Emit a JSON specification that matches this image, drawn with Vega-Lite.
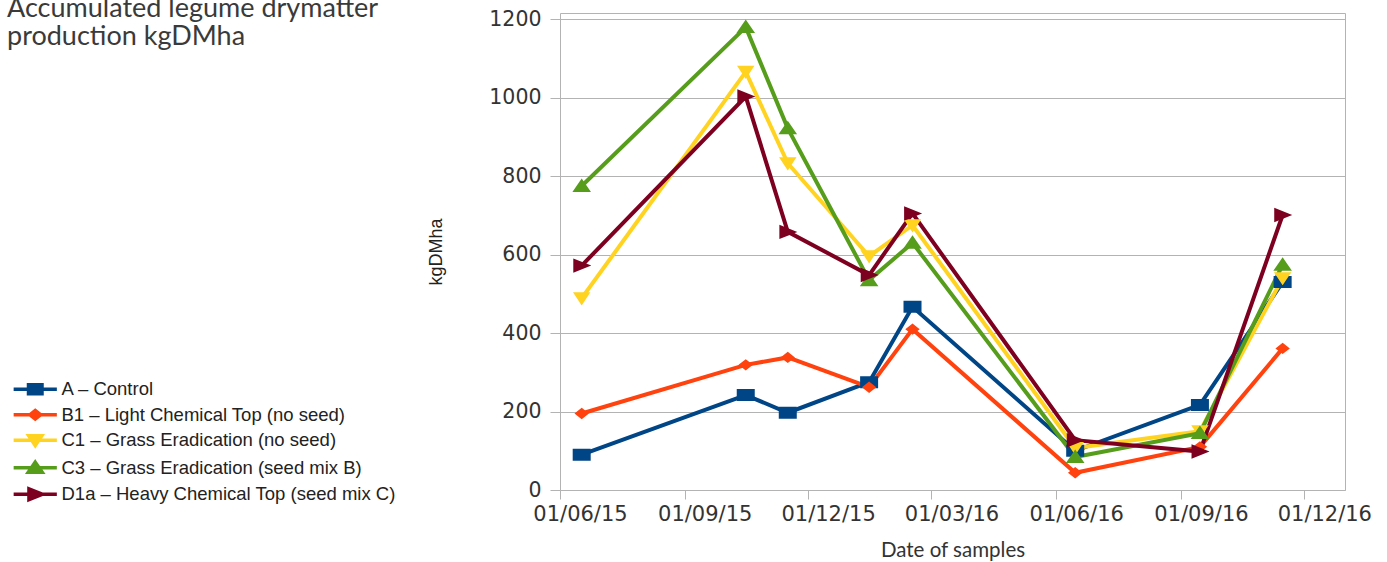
{
  "$schema": "https://vega.github.io/schema/vega-lite/v6.json",
  "width": 785,
  "height": 477,
  "autosize": {"type": "none"},
  "padding": {"left": 560, "top": 13, "right": 42, "bottom": 72},
  "background": "white",
  "title": {
    "text": ["Accumulated legume drymatter", "production kgDMha"],
    "anchor": "start",
    "frame": "group",
    "dx": -553,
    "dy": 46,
    "font": "Lato",
    "fontSize": 27,
    "fontWeight": "normal",
    "color": "#3a3a3a",
    "lineHeight": 28
  },
  "config": {
    "view": {"stroke": "#b3b3b3", "strokeWidth": 1},
    "legend": {
      "orient": "none",
      "legendX": -534,
      "legendY": 367,
      "title": null,
      "labelFont": "Liberation Sans",
      "labelFontSize": 18.5,
      "labelColor": "#222222",
      "labelLimit": 500,
      "symbolSize": 81,
      "labelOffset": 17,
      "rowPadding": 1.5,
      "symbolStrokeWidth": 3.5
    }
  },
  "data": {
    "values": [
      {"series": "A – Control", "date": "2015-06-17", "v": 90},
      {"series": "A – Control", "date": "2015-10-16", "v": 242},
      {"series": "A – Control", "date": "2015-11-16", "v": 197},
      {"series": "A – Control", "date": "2016-01-15", "v": 275},
      {"series": "A – Control", "date": "2016-02-16", "v": 467},
      {"series": "A – Control", "date": "2016-06-15", "v": 100},
      {"series": "A – Control", "date": "2016-09-15", "v": 217},
      {"series": "A – Control", "date": "2016-11-15", "v": 530},
      {"series": "B1 – Light Chemical Top (no seed)", "date": "2015-06-17", "v": 195},
      {"series": "B1 – Light Chemical Top (no seed)", "date": "2015-10-16", "v": 319},
      {"series": "B1 – Light Chemical Top (no seed)", "date": "2015-11-16", "v": 338},
      {"series": "B1 – Light Chemical Top (no seed)", "date": "2016-01-15", "v": 262},
      {"series": "B1 – Light Chemical Top (no seed)", "date": "2016-02-16", "v": 410},
      {"series": "B1 – Light Chemical Top (no seed)", "date": "2016-06-15", "v": 44},
      {"series": "B1 – Light Chemical Top (no seed)", "date": "2016-09-15", "v": 110},
      {"series": "B1 – Light Chemical Top (no seed)", "date": "2016-11-15", "v": 361},
      {"series": "C1 – Grass Eradication (no seed)", "date": "2015-06-17", "v": 489},
      {"series": "C1 – Grass Eradication (no seed)", "date": "2015-10-16", "v": 1066},
      {"series": "C1 – Grass Eradication (no seed)", "date": "2015-11-16", "v": 833},
      {"series": "C1 – Grass Eradication (no seed)", "date": "2016-01-15", "v": 596},
      {"series": "C1 – Grass Eradication (no seed)", "date": "2016-02-16", "v": 675},
      {"series": "C1 – Grass Eradication (no seed)", "date": "2016-06-15", "v": 107},
      {"series": "C1 – Grass Eradication (no seed)", "date": "2016-09-15", "v": 150},
      {"series": "C1 – Grass Eradication (no seed)", "date": "2016-11-15", "v": 540},
      {"series": "C3 – Grass Eradication (seed mix B)", "date": "2015-06-17", "v": 775},
      {"series": "C3 – Grass Eradication (seed mix B)", "date": "2015-10-16", "v": 1180},
      {"series": "C3 – Grass Eradication (seed mix B)", "date": "2015-11-16", "v": 922},
      {"series": "C3 – Grass Eradication (seed mix B)", "date": "2016-01-15", "v": 535},
      {"series": "C3 – Grass Eradication (seed mix B)", "date": "2016-02-16", "v": 630},
      {"series": "C3 – Grass Eradication (seed mix B)", "date": "2016-06-15", "v": 84},
      {"series": "C3 – Grass Eradication (seed mix B)", "date": "2016-09-15", "v": 145},
      {"series": "C3 – Grass Eradication (seed mix B)", "date": "2016-11-15", "v": 574},
      {"series": "D1a – Heavy Chemical Top (seed mix C)", "date": "2015-06-17", "v": 572},
      {"series": "D1a – Heavy Chemical Top (seed mix C)", "date": "2015-10-16", "v": 1003},
      {"series": "D1a – Heavy Chemical Top (seed mix C)", "date": "2015-11-16", "v": 658},
      {"series": "D1a – Heavy Chemical Top (seed mix C)", "date": "2016-01-15", "v": 548},
      {"series": "D1a – Heavy Chemical Top (seed mix C)", "date": "2016-02-16", "v": 705},
      {"series": "D1a – Heavy Chemical Top (seed mix C)", "date": "2016-06-15", "v": 127},
      {"series": "D1a – Heavy Chemical Top (seed mix C)", "date": "2016-09-15", "v": 98},
      {"series": "D1a – Heavy Chemical Top (seed mix C)", "date": "2016-11-15", "v": 701}
    ]
  },
  "encoding": {
    "x": {
      "field": "date",
      "type": "temporal",
      "scale": {"type": "utc", "domain": ["2015-06-01", "2016-12-31"], "nice": false},
      "axis": {
        "values": [
          {"year": 2015, "month": 6, "date": 1, "utc": true},
          {"year": 2015, "month": 9, "date": 1, "utc": true},
          {"year": 2015, "month": 12, "date": 1, "utc": true},
          {"year": 2016, "month": 3, "date": 1, "utc": true},
          {"year": 2016, "month": 6, "date": 1, "utc": true},
          {"year": 2016, "month": 9, "date": 1, "utc": true},
          {"year": 2016, "month": 12, "date": 1, "utc": true}
        ],
        "format": "%d/%m/%y",
        "labelFlush": false,
        "labelOffset": 20,
        "labelFont": "DejaVu Sans",
        "labelFontSize": 21,
        "labelColor": "#333333",
        "labelPadding": 4,
        "tickColor": "#b3b3b3",
        "tickSize": 9,
        "domain": false,
        "grid": false,
        "title": "Date of samples",
        "titleFont": "Lato",
        "titleFontSize": 20.5,
        "titleFontWeight": "normal",
        "titleColor": "#333333",
        "titlePadding": 16
      }
    },
    "y": {
      "field": "v",
      "type": "quantitative",
      "scale": {"domain": [0, 1216], "nice": false},
      "axis": {
        "values": [0, 200, 400, 600, 800, 1000, 1200],
        "format": "d",
        "grid": true,
        "gridColor": "#b3b3b3",
        "tickColor": "#b3b3b3",
        "tickSize": 10,
        "domain": false,
        "labelFont": "DejaVu Sans",
        "labelFontSize": 20.5,
        "labelColor": "#333333",
        "labelPadding": 9,
        "title": "kgDMha",
        "titleFont": "Liberation Sans",
        "titleFontSize": 18,
        "titleFontWeight": "normal",
        "titleColor": "#222222",
        "titlePadding": 43
      }
    },
    "color": {
      "field": "series",
      "type": "nominal",
      "scale": {
        "domain": ["A – Control", "B1 – Light Chemical Top (no seed)", "C1 – Grass Eradication (no seed)", "C3 – Grass Eradication (seed mix B)", "D1a – Heavy Chemical Top (seed mix C)"],
        "range": ["#004586", "#ff420e", "#ffd320", "#579d1c", "#7e0021"]
      },
      "legend": {
        "encode": {
          "symbols": {
            "update": {
              "stroke": {"scale": "color", "field": "value"},
              "strokeWidth": {"value": 3.5}
            }
          }
        }
      }
    }
  },
  "layer": [
    {
      "mark": {"type": "line", "strokeWidth": 4}
    },
    {
      "mark": {"type": "point", "filled": true, "size": 144, "opacity": 1, "strokeWidth": 0},
      "encoding": {
        "shape": {
          "field": "series",
          "type": "nominal",
          "scale": {
            "domain": ["A – Control", "B1 – Light Chemical Top (no seed)", "C1 – Grass Eradication (no seed)", "C3 – Grass Eradication (seed mix B)", "D1a – Heavy Chemical Top (seed mix C)"],
            "range": [
              "M-4.8,0H4.8M-1.5,-1H1.5V1H-1.5Z",
              "M-4.8,0H4.8M-1.2,0L0,-0.95L1.2,0L0,0.95Z",
              "M-4.8,0H4.8M-1.45,-1H1.45L0,1.2Z",
              "M-4.8,0H4.8M0,-1.25L1.55,1H-1.55Z",
              "M-4.8,0H4.8M-1.4,-1.2L1.6,0L-1.4,1.2Z"
            ]
          },
          "legend": {
            "encode": {
              "symbols": {
                "update": {
                  "stroke": {"scale": "color", "field": "value"},
                  "strokeWidth": {"value": 3.5}
                }
              }
            }
          }
        }
      }
    }
  ]
}
